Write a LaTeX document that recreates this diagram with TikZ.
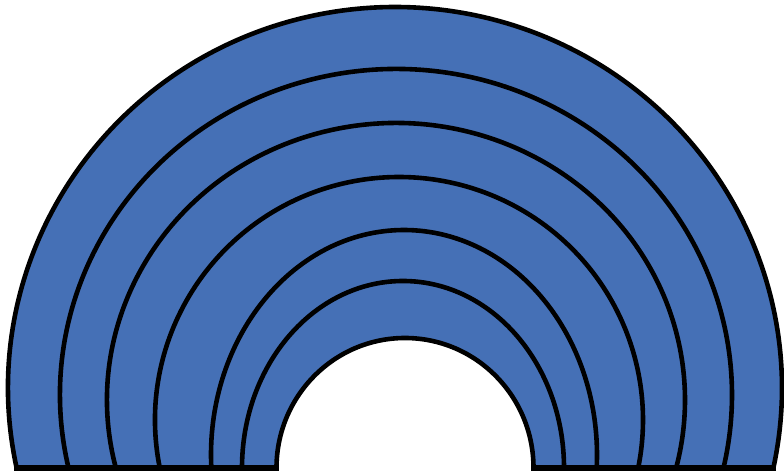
\documentclass[tikz,border=0pt]{standalone}
\definecolor{bandblue}{RGB}{69,112,182}
\tikzset{
  bandfill/.style={fill=bandblue},
  arcline/.style={draw=black, line width=4.6pt},
  baseline/.style={draw=black, line width=5.5pt, line cap=rect}
}
\begin{document}
\begin{tikzpicture}[x=1pt,y=1pt]
\useasboundingbox (0,0) rectangle (784,476);
% named end points of the bottom edge
\coordinate (oL) at (16.6,8);
\coordinate (oR) at (773.4,8);
\coordinate (iL) at (276.5,8);
\coordinate (iR) at (533.5,8);
% blue band
\fill[bandfill] (oL) arc[start angle=192.12,end angle=-12.12,x radius=387pt,y radius=381pt]
  -- (iR) arc[start angle=0,end angle=180,x radius=128.5pt,y radius=130pt] -- cycle;
% arcs
\foreach \cx/\cy/\rx/\ry/\t in {395/88/387/381/12.12, 396/81/336/326/12.94, 396/76/289/277/14.21, 399/56/244/243/11.39, 404/21/193/225/3.31, 403/8/161/187/0, 405/8/128.5/130/0}
  \draw[arcline, shift={(\cx,\cy)}] (180+\t:\rx pt and \ry pt) arc[start angle=180+\t, end angle=-\t, x radius=\rx pt, y radius=\ry pt];
% bottom edges
\draw[baseline] (oL) -- (iL);
\draw[baseline] (iR) -- (oR);
\end{tikzpicture}
\end{document}
